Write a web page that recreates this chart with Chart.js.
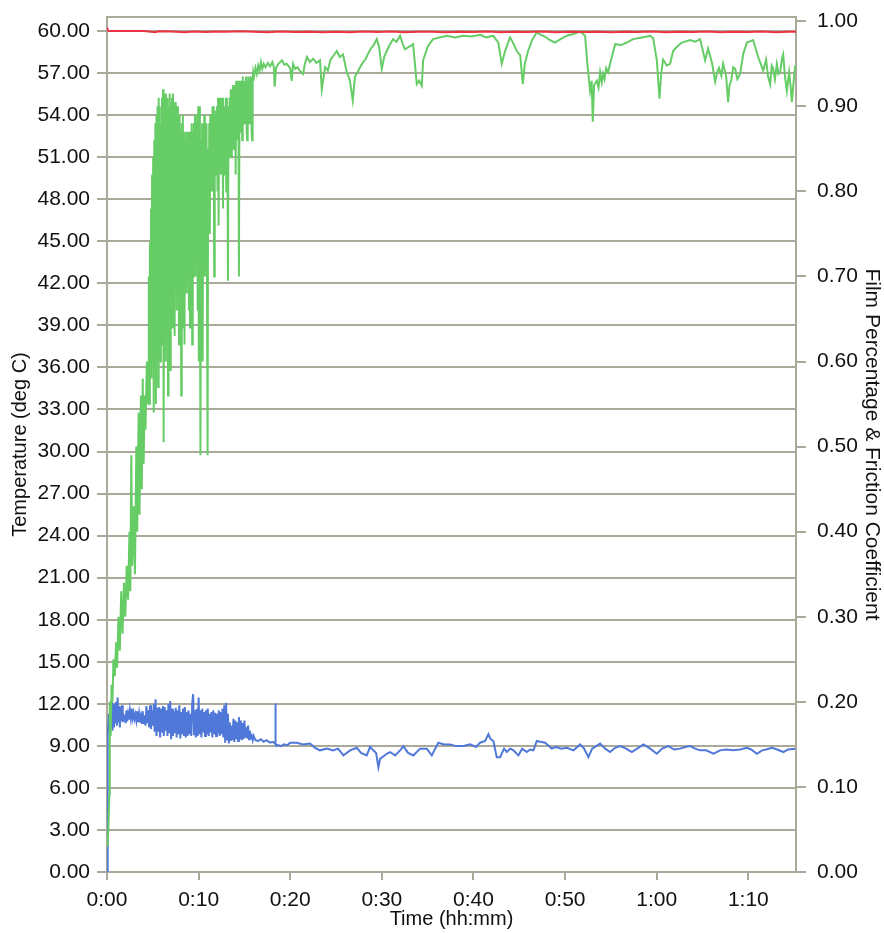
<!DOCTYPE html>
<html>
<head>
<meta charset="utf-8">
<script src="https://cdn.jsdelivr.net/npm/chart.js@4"></script>
<style>
  body { margin: 0; background: #fff; }
  #wrap { width: 884px; height: 933px; }
</style>
</head>
<body>
<div id="wrap"><canvas id="lubeChart" width="884" height="933"></canvas></div>
<script>
// time in minutes
const tempTime = [0, 0.15, 2, 4, 5.3, 5.6, 7, 8.5, 9.5, 10.8, 12, 13, 14.5, 16, 17.5, 19, 20.5, 22, 23.5, 25, 26.5, 28, 29.5, 31, 32.5, 34, 35.5, 37, 38.5, 40, 41.5, 43, 44.5, 46, 47.5, 49, 50.5, 52, 53.5, 55, 56.5, 58, 59.5, 61, 62.5, 64, 65.5, 67, 68.5, 70, 71.5, 73, 74.5, 75.2];
const tempVals = [60.25, 60.0, 60.0, 60.0, 59.92, 59.98, 59.96, 59.92, 59.97, 59.93, 59.96, 59.94, 59.98, 59.95, 59.92, 59.96, 59.93, 59.95, 59.92, 59.95, 59.92, 59.96, 59.93, 59.96, 59.92, 59.95, 59.94, 59.92, 59.95, 59.93, 59.96, 59.92, 59.95, 59.93, 59.96, 59.92, 59.95, 59.93, 59.95, 59.92, 59.95, 59.93, 59.96, 59.92, 59.95, 59.93, 59.96, 59.92, 59.95, 59.93, 59.96, 59.92, 59.95, 59.94];

const filmTime = [0.05, 0.15, 0.25, 0.30, 0.40, 0.50, 0.60, 0.70, 0.85, 1.00, 1.10, 1.25, 1.40, 1.55, 1.70, 1.85, 2.00, 2.15, 2.30, 2.45, 2.55, 2.65, 2.75, 2.90, 3.05, 3.20, 3.30, 3.45, 3.55, 3.70, 3.80, 3.90, 4.00, 4.10, 4.20, 4.35, 4.45,
    4.50, 4.56, 4.62, 4.68, 4.74, 4.80, 4.86, 4.92, 4.98, 5.04, 5.10, 5.16, 5.22, 5.28, 5.34, 5.40, 5.46, 5.52, 5.58, 5.64, 5.70, 5.76, 5.82, 5.88, 5.94,
    6.00, 6.06, 6.12, 6.18, 6.24, 6.30, 6.36, 6.42, 6.48, 6.54, 6.60, 6.66, 6.72, 6.78, 6.84, 6.90, 6.96, 7.02, 7.08, 7.14, 7.20, 7.26, 7.32, 7.38, 7.44,
    7.50, 7.56, 7.62, 7.68, 7.74, 7.80, 7.86, 7.92, 7.98, 8.04, 8.10, 8.16, 8.22, 8.28, 8.34, 8.40, 8.46, 8.52, 8.58, 8.64, 8.70, 8.76, 8.82, 8.88, 8.94,
    9.00, 9.06, 9.12, 9.18, 9.24, 9.30, 9.36, 9.42, 9.48, 9.54, 9.60, 9.66, 9.72, 9.78, 9.84, 9.90, 9.96, 10.02, 10.08, 10.14, 10.20, 10.26, 10.32, 10.38, 10.44,
    10.50, 10.56, 10.62, 10.68, 10.74, 10.80, 10.86, 10.92, 10.98, 11.04, 11.10, 11.16, 11.22, 11.28, 11.34, 11.40, 11.46, 11.52, 11.58, 11.64, 11.70, 11.76, 11.82, 11.88, 11.94,
    12.00, 12.06, 12.12, 12.18, 12.24, 12.30, 12.36, 12.42, 12.48, 12.54, 12.60, 12.66, 12.72, 12.78, 12.84, 12.90, 12.96, 13.02, 13.08, 13.14, 13.20, 13.26, 13.32, 13.38, 13.44,
    13.50, 13.56, 13.62, 13.68, 13.74, 13.80, 13.86, 13.92, 13.98, 14.04, 14.10, 14.16, 14.22, 14.28, 14.34, 14.40, 14.46, 14.52, 14.58, 14.64, 14.70, 14.76, 14.82, 14.88, 14.94,
    15.00, 15.06, 15.12, 15.18, 15.24, 15.30, 15.36, 15.42, 15.48, 15.54, 15.60, 15.66, 15.72, 15.78, 15.84, 15.90, 15.96,
    16.05, 16.20, 16.35, 16.50, 16.65, 16.80, 16.95, 17.10, 17.30, 17.55, 17.80, 18.05, 18.20, 18.30, 18.45, 18.70, 19.10, 19.35, 19.60, 20.00, 20.16, 20.31, 20.55, 20.80, 21.10, 21.40, 21.60, 21.83, 22.15, 22.50, 22.85, 23.25, 23.44, 23.80, 24.10, 24.40, 24.75, 25.08, 25.40, 25.76, 26.17, 26.50, 26.82, 27.07, 27.35, 27.62, 27.90, 28.20, 28.50, 28.80, 29.10, 29.44, 29.70, 29.99, 30.25, 30.53, 30.85, 31.22, 31.60, 31.99, 32.25, 32.53, 32.95, 33.41, 33.81, 34.06, 34.36, 34.50, 34.75, 35.00, 35.30, 35.59, 36.30, 37.09, 38.00, 38.86, 39.80, 40.72, 41.40, 42.14, 42.70, 43.09, 43.45, 43.99, 44.35, 44.72, 45.10, 45.38, 45.60, 45.96, 46.40, 46.91, 47.35, 47.80, 48.30, 48.90, 49.50, 50.19, 50.90, 51.64, 52.18, 52.43, 52.73, 52.90, 53.02, 53.17, 53.46, 53.65, 53.82, 54.00, 54.15, 54.30, 54.48, 54.70, 54.91, 55.20, 55.46, 56.10, 56.73, 57.42, 58.40, 59.28, 59.61, 60.01, 60.30, 60.50, 60.70, 61.10, 61.46, 61.79, 62.20, 62.74, 63.65, 64.20, 64.74, 65.28, 65.61, 66.05, 66.38, 66.60, 66.80, 67.05, 67.25, 67.58, 67.79, 67.95, 68.12, 68.35, 68.56, 68.80, 69.10, 69.45, 69.84, 70.52, 71.07, 71.35, 71.62, 71.94, 72.15, 72.38, 72.55, 72.70, 72.90, 73.11, 73.30, 73.47, 73.65, 73.80, 74.00, 74.20, 74.45, 74.60, 74.75, 74.95, 75.11];
const filmVals = [0.03, 0.05, 0.09, 0.20, 0.16, 0.22, 0.20, 0.25, 0.23, 0.27, 0.24, 0.30, 0.26, 0.33, 0.28, 0.34, 0.30, 0.36, 0.32, 0.40, 0.33, 0.49, 0.36, 0.43, 0.35, 0.50, 0.40, 0.54, 0.42, 0.56, 0.45, 0.58, 0.48, 0.56, 0.52, 0.60, 0.55,
    0.56, 0.70, 0.55, 0.74, 0.60, 0.78, 0.58, 0.82, 0.60, 0.84, 0.54, 0.86, 0.62, 0.88, 0.55, 0.89, 0.64, 0.90, 0.57, 0.91, 0.66, 0.90, 0.60, 0.88, 0.62,
    0.91, 0.70, 0.92, 0.505, 0.90, 0.63, 0.915, 0.60, 0.89, 0.66, 0.91, 0.56, 0.90, 0.62, 0.915, 0.59, 0.90, 0.68, 0.91, 0.64, 0.915, 0.70, 0.90, 0.63, 0.905,
    0.72, 0.89, 0.66, 0.90, 0.74, 0.88, 0.62, 0.89, 0.70, 0.87, 0.56, 0.88, 0.72, 0.89, 0.64, 0.87, 0.62, 0.86, 0.76, 0.87, 0.68, 0.86, 0.72, 0.87, 0.66,
    0.86, 0.64, 0.87, 0.74, 0.88, 0.62, 0.87, 0.70, 0.88, 0.76, 0.89, 0.70, 0.88, 0.78, 0.89, 0.66, 0.90, 0.60, 0.90, 0.72, 0.49, 0.86, 0.66, 0.88, 0.60,
    0.87, 0.74, 0.89, 0.70, 0.88, 0.78, 0.88, 0.66, 0.49, 0.85, 0.76, 0.88, 0.75, 0.89, 0.82, 0.89, 0.80, 0.90, 0.83, 0.90, 0.70, 0.89, 0.82, 0.895, 0.84,
    0.90, 0.80, 0.91, 0.76, 0.91, 0.84, 0.90, 0.82, 0.91, 0.85, 0.91, 0.78, 0.90, 0.84, 0.90, 0.82, 0.91, 0.80, 0.91, 0.86, 0.695, 0.90, 0.84, 0.91, 0.86,
    0.92, 0.84, 0.92, 0.87, 0.925, 0.85, 0.92, 0.88, 0.925, 0.82, 0.93, 0.87, 0.93, 0.86, 0.93, 0.70, 0.92, 0.87, 0.93, 0.88, 0.93, 0.86, 0.935, 0.89, 0.93,
    0.88, 0.92, 0.90, 0.935, 0.87, 0.86, 0.93, 0.89, 0.935, 0.88, 0.93, 0.90, 0.935, 0.87, 0.86, 0.93, 0.94,
    0.935, 0.945, 0.938, 0.948, 0.942, 0.952, 0.944, 0.950, 0.946, 0.951, 0.947, 0.952, 0.947, 0.923, 0.945, 0.950, 0.954, 0.949, 0.950, 0.945, 0.930, 0.950, 0.944, 0.946, 0.941, 0.938, 0.950, 0.958, 0.952, 0.956, 0.951, 0.954, 0.920, 0.946, 0.942, 0.955, 0.960, 0.965, 0.958, 0.961, 0.940, 0.931, 0.907, 0.935, 0.940, 0.946, 0.951, 0.955, 0.962, 0.968, 0.972, 0.979, 0.970, 0.944, 0.958, 0.965, 0.972, 0.979, 0.976, 0.983, 0.974, 0.967, 0.970, 0.973, 0.926, 0.930, 0.924, 0.954, 0.962, 0.970, 0.975, 0.979, 0.981, 0.983, 0.981, 0.983, 0.982, 0.984, 0.981, 0.983, 0.975, 0.950, 0.965, 0.981, 0.974, 0.965, 0.960, 0.926, 0.950, 0.965, 0.978, 0.987, 0.984, 0.982, 0.978, 0.975, 0.979, 0.983, 0.985, 0.988, 0.983, 0.950, 0.918, 0.930, 0.882, 0.925, 0.930, 0.922, 0.940, 0.928, 0.938, 0.932, 0.945, 0.940, 0.950, 0.962, 0.973, 0.972, 0.975, 0.979, 0.981, 0.983, 0.980, 0.954, 0.909, 0.940, 0.955, 0.948, 0.950, 0.965, 0.970, 0.975, 0.978, 0.976, 0.979, 0.954, 0.968, 0.950, 0.929, 0.940, 0.945, 0.936, 0.950, 0.935, 0.905, 0.925, 0.930, 0.946, 0.944, 0.932, 0.938, 0.962, 0.975, 0.978, 0.958, 0.950, 0.942, 0.955, 0.935, 0.926, 0.948, 0.945, 0.932, 0.950, 0.938, 0.940, 0.955, 0.961, 0.935, 0.918, 0.940, 0.925, 0.905, 0.930, 0.948];

const fricTime = [0, 0.05, 0.10, 0.20, 0.28, 0.36, 0.44, 0.52, 0.60, 0.68, 0.76, 0.84, 0.92, 1.00, 1.08, 1.16, 1.24, 1.32, 1.40, 1.48, 1.56, 1.64, 1.72, 1.80, 1.88, 1.96, 2.04, 2.12, 2.20, 2.30, 2.40, 2.50, 2.60, 2.70, 2.80, 2.90,
    3.00, 3.10, 3.20, 3.30, 3.40, 3.50, 3.60, 3.70, 3.80, 3.90, 4.00, 4.10, 4.20, 4.30, 4.40, 4.50, 4.60, 4.70, 4.80, 4.90, 5.00, 5.10, 5.20, 5.30, 5.40, 5.50, 5.60, 5.70, 5.80, 5.90,
    6.00, 6.10, 6.20, 6.30, 6.40, 6.50, 6.60, 6.70, 6.80, 6.90, 7.00, 7.10, 7.20, 7.30, 7.40, 7.50, 7.60, 7.70, 7.80, 7.90, 8.00, 8.10, 8.20, 8.30, 8.40, 8.50, 8.60, 8.70, 8.80, 8.90,
    9.00, 9.10, 9.20, 9.30, 9.40, 9.50, 9.60, 9.70, 9.80, 9.90, 10.00, 10.10, 10.20, 10.30, 10.40, 10.50, 10.60, 10.70, 10.80, 10.90, 11.00, 11.10, 11.20, 11.30, 11.40, 11.50, 11.60, 11.70, 11.80, 11.90,
    12.00, 12.10, 12.20, 12.30, 12.40, 12.50, 12.60, 12.70, 12.80, 12.90, 13.00, 13.10, 13.20, 13.30, 13.40, 13.50, 13.60, 13.70, 13.80, 13.90, 14.00, 14.10, 14.20, 14.30, 14.40, 14.50, 14.60, 14.70, 14.80, 14.90,
    15.00, 15.10, 15.20, 15.30, 15.40, 15.50, 15.60, 15.70, 15.80, 15.90, 16.00, 16.20, 16.50, 16.80, 17.10, 17.40, 17.80, 18.10, 18.34, 18.37, 18.42, 18.70, 19.00, 19.32, 19.70, 19.98,
    20.71, 21.40, 22.16, 22.71, 23.25, 24.02, 24.67, 25.22, 25.80, 26.53, 27.26, 27.73, 28.35, 28.71, 29.07, 29.37, 29.62, 29.80, 30.53, 30.90, 31.44, 31.99, 32.35, 32.86, 33.44, 34.17, 34.90, 35.45, 35.81, 36.17, 36.79, 37.45, 38.10, 38.90, 39.63, 40.28, 40.72, 41.27, 41.63, 41.81, 42.17, 42.54, 42.90, 43.34, 43.64, 44.00, 44.36, 44.90, 45.31, 45.82, 46.18, 46.54, 46.91, 47.27, 47.82, 48.55, 49.02, 49.56, 50.19, 50.91, 51.64, 52.07, 52.54, 52.95, 53.38, 53.82, 54.37, 54.91, 55.46, 56.00, 56.66, 57.28, 57.86, 58.55, 59.28, 60.01, 60.59, 61.28, 61.90, 62.55, 63.10, 63.65, 64.19, 64.74, 65.39, 66.19, 66.92, 67.58, 68.37, 69.10, 69.84, 70.31, 70.93, 71.51, 71.94, 72.57, 73.14, 73.83, 74.34, 75.11];
const fricVals = [0, 0.157, 0.160, 0.186, 0.170, 0.200, 0.172, 0.203, 0.166, 0.198, 0.170, 0.197, 0.175, 0.200, 0.172, 0.205, 0.176, 0.195, 0.170, 0.190, 0.178, 0.196, 0.176, 0.186, 0.178, 0.184, 0.175, 0.190, 0.177, 0.186, 0.179, 0.190, 0.181, 0.192, 0.181, 0.187,
    0.180, 0.185, 0.178, 0.189, 0.176, 0.186, 0.176, 0.183, 0.174, 0.189, 0.174, 0.184, 0.172, 0.195, 0.175, 0.190, 0.170, 0.196, 0.168, 0.190, 0.172, 0.197, 0.165, 0.203, 0.160, 0.193, 0.165, 0.194, 0.158, 0.192,
    0.164, 0.195, 0.160, 0.194, 0.166, 0.190, 0.160, 0.197, 0.163, 0.201, 0.156, 0.192, 0.160, 0.189, 0.163, 0.193, 0.158, 0.190, 0.162, 0.196, 0.157, 0.188, 0.162, 0.192, 0.160, 0.194, 0.158, 0.188, 0.160, 0.190,
    0.162, 0.186, 0.160, 0.198, 0.209, 0.162, 0.190, 0.158, 0.192, 0.160, 0.205, 0.162, 0.190, 0.158, 0.192, 0.164, 0.188, 0.160, 0.190, 0.162, 0.192, 0.160, 0.186, 0.164, 0.188, 0.158, 0.190, 0.162, 0.187, 0.160,
    0.186, 0.163, 0.190, 0.160, 0.188, 0.162, 0.192, 0.158, 0.196, 0.152, 0.199, 0.156, 0.186, 0.151, 0.176, 0.154, 0.172, 0.155, 0.180, 0.153, 0.178, 0.156, 0.176, 0.154, 0.182, 0.156, 0.178, 0.155, 0.175, 0.156,
    0.178, 0.158, 0.170, 0.157, 0.172, 0.156, 0.166, 0.158, 0.160, 0.155, 0.160, 0.155, 0.154, 0.156, 0.153, 0.155, 0.152, 0.153, 0.151, 0.198, 0.150, 0.149, 0.148, 0.150, 0.149, 0.152,
    0.152, 0.150, 0.151, 0.146, 0.143, 0.145, 0.143, 0.145, 0.137, 0.143, 0.146, 0.140, 0.137, 0.147, 0.143, 0.140, 0.123, 0.133, 0.139, 0.141, 0.137, 0.143, 0.148, 0.140, 0.137, 0.145, 0.145, 0.137, 0.145, 0.152, 0.150, 0.150, 0.148, 0.148, 0.150, 0.147, 0.152, 0.154, 0.162, 0.157, 0.154, 0.135, 0.135, 0.145, 0.141, 0.145, 0.143, 0.137, 0.145, 0.141, 0.144, 0.143, 0.154, 0.153, 0.152, 0.145, 0.147, 0.145, 0.146, 0.143, 0.150, 0.145, 0.135, 0.145, 0.148, 0.151, 0.145, 0.141, 0.146, 0.148, 0.145, 0.141, 0.145, 0.150, 0.145, 0.139, 0.145, 0.148, 0.144, 0.145, 0.147, 0.148, 0.145, 0.143, 0.143, 0.139, 0.143, 0.144, 0.143, 0.144, 0.146, 0.144, 0.139, 0.143, 0.144, 0.146, 0.144, 0.141, 0.144, 0.145];

const xTickStep = 10;
const leftTickStep = 3;
const rightTickStep = 0.1;

const gridCol = '#aba99a';
const fontFam = '"Liberation Sans", Arial, sans-serif';

function pairs(xs, ys) {
    return xs.map((t, i) => ({x: t, y: ys[i]}));
}

function hhmm(v) {
    let m = Math.round(v);
    return Math.floor(m / 60) + ':' + String(m % 60).padStart(2, '0');
}

// keep the plot box where it is in the picture
function fixSide(size) {
    return function (s) {
        s.width = size;
        s.paddingTop = 0;
        s.paddingBottom = 0;
    };
}

// top edge of the frame
const frameTop = {
    id: 'frameTop',
    afterDraw(chart) {
        const a = chart.chartArea;
        const c = chart.ctx;
        c.save();
        c.strokeStyle = gridCol;
        c.lineWidth = 2;
        c.beginPath();
        c.moveTo(a.left, a.top);
        c.lineTo(a.right, a.top);
        c.stroke();
        c.restore();
    }
};

const ctx = document.getElementById('lubeChart');

new Chart(ctx, {
    type: 'line',
    data: {
        datasets: [{
            label: 'Temperature',
            data: pairs(tempTime, tempVals),
            yAxisID: 'y',
            borderColor: '#ee3344',
            borderWidth: 2,
            pointRadius: 0
        }, {
            label: 'Film Percentage',
            data: pairs(filmTime, filmVals),
            yAxisID: 'y1',
            borderColor: '#66cc66',
            borderWidth: 2,
            pointRadius: 0
        }, {
            label: 'Friction Coefficient',
            data: pairs(fricTime, fricVals),
            yAxisID: 'y1',
            borderColor: '#5078d8',
            borderWidth: 2,
            pointRadius: 0
        }]
    },
    options: {
        responsive: false,
        animation: false,
        layout: { padding: { top: 17, left: 0, right: 0, bottom: 0 } },
        plugins: {
            legend: { display: false },
            tooltip: { enabled: false }
        },
        scales: {
            x: {
                type: 'linear',
                min: 0,
                max: 75.2,
                afterFit(s) { s.height = 61; s.paddingLeft = 0; s.paddingRight = 0; },
                border: { color: gridCol, width: 2 },
                grid: { drawOnChartArea: false, color: gridCol, lineWidth: 2, tickLength: 8 },
                ticks: {
                    stepSize: xTickStep,
                    includeBounds: false,
                    autoSkip: false,
                    maxRotation: 0,
                    padding: 8,
                    color: '#111',
                    font: { family: fontFam, size: 21 },
                    callback: (v) => hhmm(v)
                },
                title: {
                    display: true,
                    text: 'Time (hh:mm)',
                    color: '#111',
                    font: { family: fontFam, size: 20 },
                    padding: { top: 0, bottom: 2 }
                }
            },
            y: {
                position: 'left',
                min: 0,
                max: 61,
                afterFit: fixSide(107),
                border: { color: gridCol, width: 2 },
                grid: { color: gridCol, lineWidth: 2, tickLength: 10 },
                ticks: {
                    stepSize: leftTickStep,
                    includeBounds: false,
                    autoSkip: false,
                    maxTicksLimit: 100,
                    padding: 7,
                    color: '#111',
                    font: { family: fontFam, size: 21 },
                    callback: (v) => v.toFixed(2)
                },
                title: {
                    display: true,
                    text: 'Temperature (deg C)',
                    color: '#111',
                    font: { family: fontFam, size: 20 },
                    padding: { top: 8, bottom: 0 }
                }
            },
            y1: {
                position: 'right',
                min: 0,
                max: 1.005,
                afterFit: fixSide(88),
                border: { color: gridCol, width: 2 },
                grid: { drawOnChartArea: false, color: gridCol, lineWidth: 2, tickLength: 10 },
                ticks: {
                    stepSize: rightTickStep,
                    includeBounds: false,
                    autoSkip: false,
                    maxTicksLimit: 100,
                    padding: 11,
                    color: '#111',
                    font: { family: fontFam, size: 21 },
                    callback: (v) => v.toFixed(2)
                },
                title: {
                    display: true,
                    text: 'Film Percentage & Friction Coefficient',
                    color: '#111',
                    font: { family: fontFam, size: 21 },
                    padding: { top: 0, bottom: 0 }
                }
            }
        }
    },
    plugins: [frameTop]
});
</script>
</body>
</html>
